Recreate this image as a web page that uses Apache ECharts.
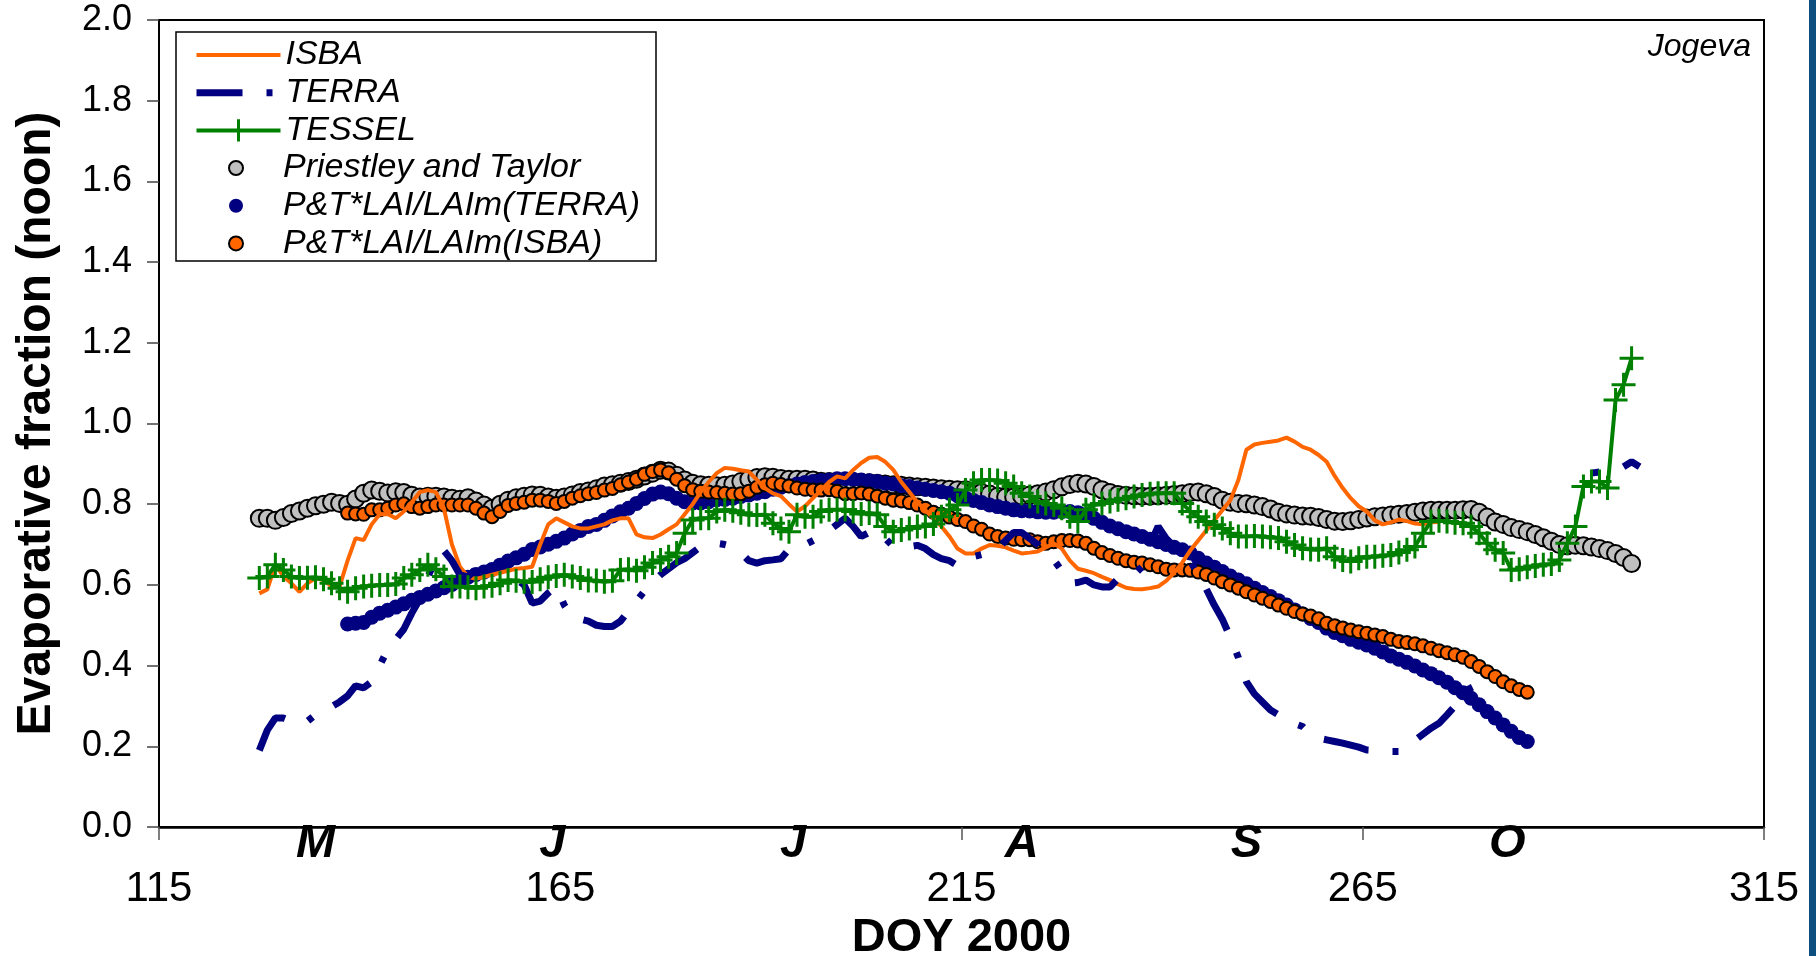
<!DOCTYPE html>
<html>
<head>
<meta charset="utf-8">
<script src="https://cdn.jsdelivr.net/npm/echarts/dist/echarts.min.js"></script>
<style>
html,body{margin:0;padding:0;background:#fff;}
#chart{width:1816px;height:956px;}
</style>
</head>
<body>
<div id="chart"></div>
<script>
// ---- data (DOY 2000, noon values) ----
const NOON = 0.5;
const xTicks = [115, 165, 215, 265, 315];
const monthLetters = ['M', 'J', 'J', 'A', 'S', 'O'];
const monthDoy = [134.5, 164, 194, 222.5, 250.5, 283];

const isbaStart = 127;
const isba = [
  .579,.589,.65,.621,.604,.583,.604,.617,.612,.596,
  .596,.66,.716,.711,.75,.775,.776,.765,.782,.805,
  .83,.835,.83,.79,.70,.645,.62,.615,.62,.625,
  .63,.635,.64,.642,.645,.70,.75,.765,.755,.745,
  .74,.74,.745,.75,.76,.765,.765,.725,.718,.716,
  .725,.738,.75,.775,.80,.83,.855,.877,.89,.888,
  .884,.881,.86,.84,.827,.82,.80,.782,.795,.815,
  .835,.855,.869,.864,.885,.902,.915,.917,.905,.885,
  .855,.83,.805,.785,.765,.745,.72,.69,.678,.678,
  .69,.699,.697,.693,.685,.678,.68,.683,.693,.703,
  .69,.66,.64,.635,.629,.62,.612,.602,.593,.59,
  .589,.592,.596,.61,.63,.655,.685,.71,.735,.76,
  .785,.81,.86,.935,.948,.952,.955,.958,.965,.955,
  .942,.935,.922,.905,.87,.84,.815,.795,.782,.76,
  .75,.755,.762,.758,.752,.75,.755,.756
];

// null = no value drawn (gap in the TERRA curve)
const terraStart = 127;
const terra = [
  .19,.24,.27,.27,.262,.258,.262,.278,.29,.298,
  .31,.325,.35,.345,.36,.40,.44,.465,.49,.53,
  .565,.62,.665,.685,.66,.625,.62,.64,.652,.655,
  .645,.63,.615,.60,.555,.56,.58,.595,.55,.52,
  .515,.51,.50,.497,.497,.51,.535,.56,.585,.605,
  .625,.64,.655,.665,.68,.695,.70,.703,.70,.695,
  .68,.66,.654,.66,.662,.665,.688,.695,.70,.71,
  .72,.735,.75,.765,.745,.72,.73,.736,.715,.695,
  .692,.695,.698,.69,.675,.665,.66,.648,.665,.67,
  .675,.68,.69,.71,.73,.73,.715,.70,.68,.662,
  .635,.604,.606,.612,.60,.595,.595,.615,.62,.625,
  .645,.70,.745,.715,.695,.68,.66,.625,.59,.55,
  .515,.47,.42,.36,.33,.31,.29,.278,.266,.256,
  .249,.23,.22,.216,.212,.208,.203,.198,.191,.19,
  .188,.187,.187,.205,.215,.23,.245,.257,.278,.30,
  .335,.345,.355,.365,null,null,null,null,null,null,
  null,null,null,null,null,null,.877,.88,null,null,
  .893,.905,.893
];

const tesselStart = 127;
const tessel = [
  .617,.621,.650,.637,.621,.617,.618,.619,.614,.604,
  .592,.583,.592,.596,.598,.600,.600,.602,.617,.625,
  .637,.650,.639,.621,.596,.596,.594,.592,.596,.598,
  .604,.612,.610,.608,.607,.614,.619,.622,.625,.621,
  .617,.611,.611,.608,.61,.637,.639,.635,.644,.654,
  .662,.670,.679,.728,.761,.765,.765,.782,.786,.784,
  .779,.774,.773,.774,.753,.740,.732,.774,.769,.769,
  .782,.786,.786,.787,.782,.776,.778,.774,.745,.732,
  .736,.740,.745,.745,.751,.769,.786,.798,.835,.852,
  .860,.860,.859,.852,.844,.827,.819,.807,.802,.798,
  .790,.769,.757,.786,.798,.802,.807,.811,.815,.819,
  .823,.826,.827,.827,.827,.802,.782,.769,.757,.749,
  .740,.728,.720,.720,.721,.720,.718,.716,.707,.699,
  .691,.688,.687,.691,.670,.662,.658,.666,.670,.670,
  .672,.674,.680,.687,.695,.728,.757,.759,.757,.754,
  .753,.745,.728,.703,.687,.679,.637,.639,.644,.647,
  .650,.652,.662,.703,.745,.844,.856,.856,.840,1.058,
  1.096,1.162
];

const ptStart = 127;
const pt = [
  .765,.765,.760,.767,.777,.783,.790,.796,.800,.805,
  .802,.800,.813,.827,.835,.832,.828,.831,.829,.822,
  .818,.820,.820,.818,.815,.812,.816,.808,.798,.790,
  .800,.810,.816,.820,.823,.822,.818,.815,.818,.823,
  .829,.833,.838,.845,.848,.852,.856,.862,.870,.877,
  .884,.882,.872,.860,.852,.848,.847,.846,.847,.850,
  .856,.862,.866,.868,.867,.864,.862,.862,.862,.860,
  .857,.856,.855,.855,.855,.854,.853,.852,.850,.848,
  .847,.845,.843,.842,.840,.838,.837,.836,.836,.833,
  .829,.825,.820,.818,.818,.820,.823,.826,.830,.836,
  .843,.849,.852,.850,.844,.836,.829,.824,.822,.821,
  .820,.820,.821,.822,.824,.826,.829,.830,.826,.819,
  .810,.805,.802,.801,.798,.794,.788,.780,.776,.773,
  .771,.770,.767,.762,.758,.757,.759,.762,.766,.769,
  .771,.773,.775,.777,.780,.783,.785,.785,.785,.785,
  .786,.787,.780,.768,.756,.750,.742,.737,.732,.725,
  .717,.708,.700,.697,.698,.697,.694,.690,.685,.678,
  .668,.653
];

const ptTerraStart = 138;
const ptTerra = [
  .503,.505,.507,.520,.530,.537,.545,.553,.562,.569,
  .577,.585,.593,.601,.610,.619,.626,.632,.638,.649,
  .659,.667,.676,.688,.694,.701,.708,.716,.726,.735,
  .745,.750,.760,.771,.781,.790,.802,.814,.825,.830,
  .826,.815,.806,.803,.803,.806,.811,.812,.815,.819,
  .823,.827,.831,.837,.842,.846,.850,.854,.856,.859,
  .860,.863,.863,.862,.860,.858,.856,.852,.850,.846,
  .844,.840,.837,.834,.831,.827,.821,.815,.809,.804,
  .798,.794,.790,.786,.784,.783,.781,.780,.780,.782,
  .782,.779,.774,.765,.755,.746,.739,.732,.726,.720,
  .713,.707,.700,.693,.687,.679,.666,.654,.644,.633,
  .622,.612,.603,.592,.581,.571,.561,.550,.538,.528,
  .517,.507,.493,.482,.474,.465,.458,.451,.443,.434,
  .424,.416,.408,.399,.389,.380,.370,.359,.345,.333,
  .319,.303,.286,.270,.253,.237,.222,.212
];

const ptIsbaStart = 138;
const ptIsba = [
  .778,.776,.775,.786,.786,.790,.798,.801,.794,.790,
  .794,.798,.798,.798,.798,.798,.790,.778,.769,.782,
  .797,.802,.805,.810,.810,.807,.802,.807,.815,.821,
  .826,.829,.835,.839,.848,.855,.862,.874,.881,.885,
  .878,.862,.846,.836,.832,.830,.829,.827,.825,.826,
  .832,.842,.848,.852,.849,.845,.840,.837,.835,.835,
  .836,.832,.826,.826,.828,.825,.820,.815,.810,.808,
  .804,.798,.790,.780,.775,.768,.762,.757,.746,.738,
  .726,.720,.716,.713,.712,.712,.707,.703,.707,.710,
  .710,.709,.703,.691,.680,.673,.666,.660,.656,.654,
  .650,.645,.639,.637,.637,.636,.632,.626,.617,.608,
  .600,.592,.583,.575,.567,.559,.550,.542,.534,.528,
  .523,.516,.505,.499,.493,.488,.484,.480,.476,.472,
  .465,.460,.457,.454,.449,.443,.437,.432,.427,.421,
  .410,.398,.385,.373,.360,.350,.341,.334
];

// ---- build ----
function pairs(start, values) {
  return values.map(function (v, i) { return [start + i + NOON, v === null ? '-' : v]; });
}
const FONT = '"Liberation Sans", Arial, Helvetica, sans-serif';
const PLUS = 'path://M10,0 L10,20 M0,10 L20,10';

const chart = echarts.init(document.getElementById('chart'), null, {renderer: 'canvas'});

const legendText = {fontSize: 34, fontStyle: 'italic', color: '#000', fontFamily: FONT, lineHeight: 30};

const option = {
  animation: false,
  backgroundColor: '#fff',
  textStyle: {fontFamily: FONT},
  grid: {left: 159, right: 52, top: 20, bottom: 129, show: true, borderColor: '#000', borderWidth: 2,
    containLabel: false, outerBoundsMode: 'none'},
  xAxis: [{
    type: 'value', min: xTicks[0], max: xTicks[xTicks.length - 1], interval: xTicks[1] - xTicks[0],
    axisLine: {show: true, onZero: false, lineStyle: {color: '#000', width: 2.5}},
    axisTick: {show: true, inside: false, length: 13, lineStyle: {color: '#555', width: 1.5}},
    splitLine: {show: false},
    axisLabel: {fontSize: 42, color: '#000', margin: 62, verticalAlign: 'middle', fontFamily: FONT, showMinLabel: true, showMaxLabel: true},
    name: 'DOY 2000', nameLocation: 'middle', nameGap: 107,
    nameTextStyle: {fontSize: 47, fontWeight: 'bold', color: '#000', verticalAlign: 'middle', fontFamily: FONT}
  }, {
    type: 'value', min: xTicks[0], max: xTicks[xTicks.length - 1], position: 'bottom',
    axisLine: {show: false}, axisTick: {show: false}, splitLine: {show: false},
    axisLabel: {
      customValues: monthDoy,
      formatter: function (v) { const i = monthDoy.indexOf(v); return i >= 0 ? monthLetters[i] : ''; },
      fontSize: 47, fontWeight: 'bold', fontStyle: 'italic', color: '#000', margin: 17,
      verticalAlign: 'middle', fontFamily: FONT
    }
  }],
  yAxis: {
    type: 'value', min: 0, max: 2, interval: 0.2,
    axisLine: {show: true, onZero: false, lineStyle: {color: '#000', width: 2}},
    axisTick: {show: true, inside: false, length: 12, lineStyle: {color: '#444', width: 1.5}},
    splitLine: {show: false},
    axisLabel: {fontSize: 36, color: '#000', margin: 27, fontFamily: FONT, formatter: function (v) { return v.toFixed(1); }},
    name: 'Evaporative fraction (noon)', nameLocation: 'middle', nameGap: 122,
    nameTextStyle: {fontSize: 48, fontWeight: 'bold', color: '#000', verticalAlign: 'middle', fontFamily: FONT}
  },
  legend: [{
    data: [{name: 'ISBA', itemStyle: {opacity: 0}}, {name: 'TERRA', itemStyle: {opacity: 0}}, 'TESSEL'],
    orient: 'vertical', left: 193, top: 38, padding: 0,
    itemWidth: 84, itemHeight: 28, itemGap: 3.7, selectedMode: false, textStyle: legendText, z: 5,
    lineStyle: {width: 'inherit'}, itemStyle: {borderWidth: 'inherit'}
  }, {
    data: ['Priestley and Taylor', 'P&T*LAI/LAIm(TERRA)', 'P&T*LAI/LAIm(ISBA)'], orient: 'vertical', left: 228, top: 151, padding: 0,
    itemWidth: 84, itemHeight: 14, itemGap: 3.7, selectedMode: false, textStyle: legendText, z: 5
  }],
  graphic: [
    {type: 'rect', z: 3, shape: {x: 176, y: 32, width: 480, height: 229}, style: {fill: '#fff', stroke: '#000', lineWidth: 1.5}},
    {type: 'rect', z: 3, shape: {x: 1809, y: 0, width: 7, height: 956}, style: {fill: '#0d4f7e'}},
    {type: 'text', z: 3, x: 1751, y: 47, style: {text: 'Jogeva', font: 'italic 32px ' + FONT, fill: '#000', align: 'right', verticalAlign: 'middle'}}
  ],
  series: [
    {name: 'ISBA', type: 'line', data: pairs(isbaStart, isba), symbol: 'none', silent: true,
      lineStyle: {color: '#FF6600', width: 4}, itemStyle: {color: '#FF6600'}},
    {name: 'TERRA', type: 'line', data: pairs(terraStart, terra), symbol: 'none', silent: true, connectNulls: false,
      lineStyle: {color: '#000080', width: 7, type: [46, 24, 6, 24], cap: 'butt'}, itemStyle: {color: '#000080'}},
    {name: 'TESSEL', type: 'line', data: pairs(tesselStart, tessel), symbol: PLUS, symbolSize: 24, showSymbol: true, showAllSymbol: true, silent: true,
      lineStyle: {color: '#008000', width: 4}, itemStyle: {color: 'none', borderColor: '#008000', borderWidth: 3, opacity: 1}},
    {name: 'Priestley and Taylor', type: 'scatter', data: pairs(ptStart, pt), symbol: 'circle', symbolSize: 17, silent: true,
      itemStyle: {color: '#C0C0C0', borderColor: '#000', borderWidth: 2, opacity: 1}},
    {name: 'P&T*LAI/LAIm(TERRA)', type: 'scatter', data: pairs(ptTerraStart, ptTerra), symbol: 'circle', symbolSize: 15, silent: true,
      itemStyle: {color: '#000080', borderColor: '#000080', borderWidth: 0, opacity: 1}},
    {name: 'P&T*LAI/LAIm(ISBA)', type: 'scatter', data: pairs(ptIsbaStart, ptIsba), symbol: 'circle', symbolSize: 13, silent: true,
      itemStyle: {color: '#FF6600', borderColor: '#000', borderWidth: 2, opacity: 1}}
  ]
};
chart.setOption(option);
</script>
</body>
</html>
